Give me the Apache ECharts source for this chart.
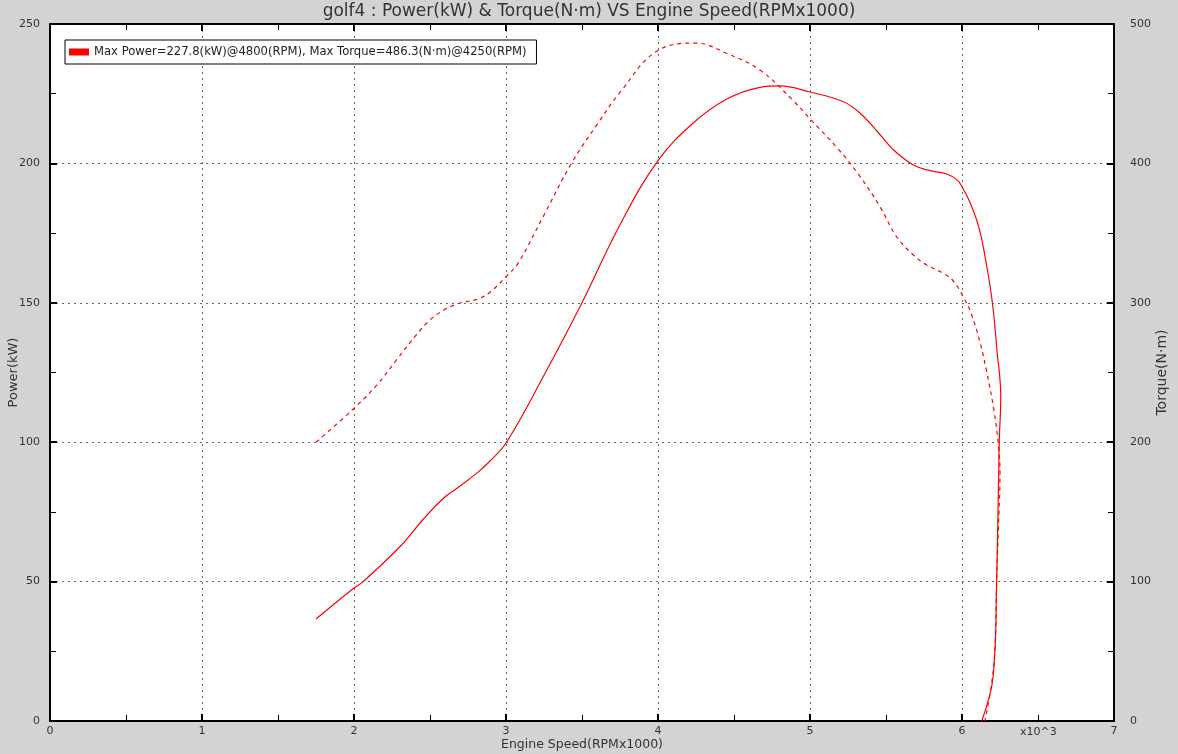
<!DOCTYPE html>
<html>
<head>
<meta charset="utf-8">
<script src="https://cdn.jsdelivr.net/npm/echarts@6/dist/echarts.min.js"></script>
<style>
html,body{margin:0;padding:0;background:#d3d3d3;}
#c{width:1178px;height:754px;}
</style>
</head>
<body>
<div id="c"></div>
<script>
var titleText = 'golf4 : Power(kW) & Torque(N\u00b7m) VS Engine Speed(RPMx1000)';
var legendText = 'Max Power=227.8(kW)@4800(RPM), Max Torque=486.3(N\u00b7m)@4250(RPM)';
var xName = 'Engine Speed(RPMx1000)';
var yLeftName = 'Power(kW)';
var yRightName = 'Torque(N\u00b7m)';

var rpmPower = [1.75, 2.0, 2.06, 2.3, 2.45, 2.59, 2.68, 2.81, 2.89, 3.0, 3.25, 3.5, 3.75, 4.0, 4.23, 4.45, 4.67, 4.8, 5.0, 5.22, 5.33, 5.45, 5.55, 5.68, 5.79, 5.9, 5.97, 6.0, 6.05, 6.11, 6.16, 6.2, 6.23, 6.255, 6.245, 6.228, 6.206, 6.13];
var power = [36.6, 47.7, 50, 62.4, 72, 80, 83.6, 89, 93, 99.7, 124, 150, 178, 201, 214.4, 223, 227.3, 227.8, 225.6, 222.1, 218, 211, 204.8, 199.4, 197.4, 196.2, 194, 191.6, 186.3, 177.3, 164, 150, 133, 116.3, 100, 50, 16.5, 0];

var rpmTorque = [1.75, 1.995, 2.15, 2.28, 2.41, 2.5, 2.59, 2.69, 2.81, 2.89, 3.0, 3.08, 3.25, 3.43, 3.6, 3.75, 4.0, 4.25, 4.45, 4.67, 4.89, 5.0, 5.18, 5.32, 5.46, 5.57, 5.68, 5.77, 5.88, 5.94, 6.01, 6.06, 6.12, 6.16, 6.21, 6.24, 6.25, 6.239, 6.228, 6.217, 6.195, 6.151];
var torque = [200, 223.8, 241, 259, 277, 287.7, 294.8, 299.6, 302.5, 307.2, 318.7, 328.5, 363, 400, 428, 451, 481, 486.3, 479, 467, 445, 432, 411, 392, 369, 347.4, 334.3, 327, 321, 316, 304, 292.5, 271, 251.8, 223, 196.8, 178, 137, 100, 53, 27, 0];

var powerData = rpmPower.map(function(x,i){return [x, power[i]];});
var torqueData = rpmTorque.map(function(x,i){return [x, torque[i]];});

var FONT = 'DejaVu Sans';
var chart = echarts.init(document.getElementById('c'));
var gridLine = {show:true, lineStyle:{color:'#666', type:[2,4], width:1}};
chart.setOption({
  backgroundColor:'#d3d3d3',
  animation:false,
  title:{text:titleText, left:'center', top:-2, textStyle:{fontFamily:FONT, fontSize:17, fontWeight:'normal', color:'#333'}},
  legend:{
    data:[{name:legendText, icon:'rect'}],
    left:65, top:40,
    orient:'horizontal',
    padding:[6,10,6,4],
    itemWidth:20, itemHeight:7, itemGap:5,
    backgroundColor:'#fff', borderColor:'#000', borderWidth:1,
    textStyle:{fontFamily:FONT, fontSize:11.6, color:'#222'}
  },
  grid:{left:50, right:64, top:24, bottom:33, outerBoundsMode:'none', containLabel:false, show:true, backgroundColor:'#fff', borderColor:'#000', borderWidth:2},
  xAxis:[{
    type:'value', min:0, max:7, interval:1, position:'bottom',
    name:xName, nameLocation:'middle', nameGap:17, nameMoveOverlap:false,
    nameTextStyle:{fontFamily:FONT, fontSize:12.5, color:'#333'},
    axisLine:{show:true, onZero:false, lineStyle:{color:'#000', width:2}},
    axisTick:{show:true, inside:true, length:7, lineStyle:{color:'#000', width:2}},
    minorTick:{show:true, splitNumber:2, length:6, lineStyle:{color:'#000', width:1}},
    axisLabel:{fontFamily:FONT, fontSize:11, color:'#333', margin:5},
    splitLine:gridLine
  },{
    type:'value', min:0, max:7, interval:1, position:'top',
    axisLine:{show:true, onZero:false, lineStyle:{color:'#000', width:2}},
    axisTick:{show:true, inside:true, length:7, lineStyle:{color:'#000', width:2}},
    minorTick:{show:true, splitNumber:2, length:6, lineStyle:{color:'#000', width:1}},
    axisLabel:{show:false}, splitLine:{show:false}
  }],
  yAxis:[{
    type:'value', min:0, max:250, interval:50, position:'left',
    name:yLeftName, nameLocation:'middle', nameGap:30, nameRotate:90, nameMoveOverlap:false,
    nameTextStyle:{fontFamily:FONT, fontSize:13, color:'#333'},
    axisLine:{show:true, onZero:false, lineStyle:{color:'#000', width:2}},
    axisTick:{show:true, inside:true, length:7, lineStyle:{color:'#000', width:2}},
    minorTick:{show:true, splitNumber:2, length:6, lineStyle:{color:'#000', width:1}},
    axisLabel:{fontFamily:FONT, fontSize:11, color:'#333', margin:10},
    splitLine:gridLine
  },{
    type:'value', min:0, max:500, interval:100, position:'right',
    name:yRightName, nameLocation:'middle', nameGap:41, nameRotate:90, nameMoveOverlap:false,
    nameTextStyle:{fontFamily:FONT, fontSize:14, color:'#333'},
    axisLine:{show:true, onZero:false, lineStyle:{color:'#000', width:2}},
    axisTick:{show:true, inside:true, length:7, lineStyle:{color:'#000', width:2}},
    minorTick:{show:true, splitNumber:2, length:6, lineStyle:{color:'#000', width:1}},
    axisLabel:{fontFamily:FONT, fontSize:11, color:'#333', margin:16},
    splitLine:{show:false}
  }],
  graphic:[{type:'text', left:1020, top:727, style:{text:'x10^3', font:'11px "DejaVu Sans"', fill:'#333'}}],
  series:[{
    name:legendText, type:'line', xAxisIndex:0, yAxisIndex:0, data:powerData,
    showSymbol:false, smooth:0.4, itemStyle:{color:'#ff0000'},
    lineStyle:{color:'#ff0000', width:1.2}
  },{
    name:'torque', type:'line', xAxisIndex:0, yAxisIndex:1, data:torqueData,
    showSymbol:false, smooth:0.4, itemStyle:{color:'#ff0000'},
    lineStyle:{color:'#ff0000', width:1.2, type:[4,4]}
  }]
});
</script>
</body>
</html>
